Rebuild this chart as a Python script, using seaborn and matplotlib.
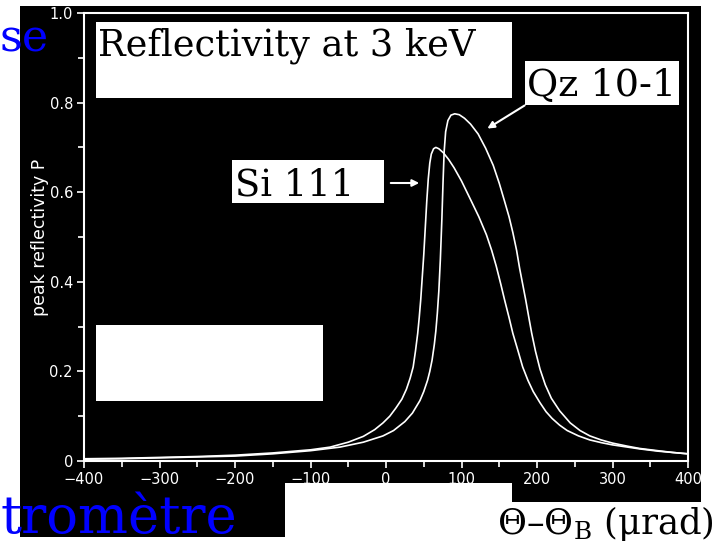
import numpy as np
import pandas as pd
import matplotlib
matplotlib.use('Agg')
import matplotlib.pyplot as plt
import seaborn as sns
from matplotlib.patches import Rectangle, FancyArrowPatch

sns.set_style('ticks')
plt.rcParams['font.family'] = ['DejaVu Sans']
plt.rcParams['mathtext.fontset'] = 'dejavuserif'

# curve data
si_theta = [-400, -350, -300, -250, -200, -150, -100, -74, -50, -30, -15, -4, 5, 13, 21, 27, 32,
            36, 39, 42, 44, 46, 48, 50, 52, 54, 56, 58, 60, 63, 66, 70, 76, 83, 90, 100, 113,
            123, 133, 140, 146, 152, 157, 163, 168, 175, 181, 188, 195, 204, 212, 220, 230,
            240, 255, 270, 285, 300, 320, 336, 360, 380, 400]
si_p = [0.005, 0.006, 0.008, 0.010, 0.013, 0.018, 0.025, 0.031, 0.042, 0.055, 0.070, 0.085,
        0.100, 0.118, 0.138, 0.160, 0.185, 0.21, 0.245, 0.285, 0.32, 0.36, 0.41, 0.46, 0.52,
        0.58, 0.63, 0.665, 0.685, 0.697, 0.70, 0.697, 0.688, 0.673, 0.655, 0.625, 0.58, 0.545,
        0.505, 0.47, 0.435, 0.395, 0.36, 0.32, 0.285, 0.245, 0.21, 0.18, 0.155, 0.13, 0.11,
        0.095, 0.08, 0.068, 0.056, 0.047, 0.041, 0.036, 0.031, 0.027, 0.022, 0.019, 0.016]

qz_theta = [-400, -350, -300, -250, -200, -150, -100, -61, -30, -4, 10, 25, 35, 45, 50, 55, 58,
            61, 64, 66, 68, 70, 72, 74, 75.5, 77, 79, 82, 86, 91, 97, 104, 112, 122, 132, 142,
            150, 157, 163, 168, 173, 177, 181, 185, 189, 193, 198, 204, 211, 219, 230, 244,
            257, 270, 285, 300, 320, 336, 360, 380, 400]
qz_p = [0.004, 0.005, 0.007, 0.009, 0.011, 0.016, 0.023, 0.031, 0.042, 0.056, 0.068, 0.088,
        0.107, 0.135, 0.155, 0.18, 0.20, 0.225, 0.26, 0.29, 0.33, 0.38, 0.45, 0.54, 0.62, 0.69,
        0.735, 0.76, 0.772, 0.775, 0.773, 0.765, 0.752, 0.73, 0.698, 0.66, 0.62, 0.58, 0.545,
        0.51, 0.47, 0.43, 0.395, 0.36, 0.322, 0.285, 0.245, 0.205, 0.17, 0.14, 0.112, 0.085,
        0.068, 0.056, 0.047, 0.040, 0.033, 0.028, 0.023, 0.019, 0.016]

x_ticks = [-400, -300, -200, -100, 0, 100, 200, 300, 400]
x_labels = ['\u2212400', '\u2212300', '\u2212200', '\u2212100', '0', '100', '200', '300', '400']
y_ticks = [0, 0.2, 0.4, 0.6, 0.8, 1.0]
y_labels = ['0', '0.2', '0.4', '0.6', '0.8', '1.0']

W, H = 723, 548


def fx(px):
    return px / W


def fy(py):
    return 1 - py / H


def box(fig, x0, y0, x1, y1, color, z):
    fig.add_artist(Rectangle((fx(x0), fy(y1)), (x1 - x0) / W, (y1 - y0) / H,
                             transform=fig.transFigure, facecolor=color,
                             edgecolor='none', zorder=z))


fig = plt.figure(figsize=(7.23, 5.48), dpi=100)
fig.patch.set_facecolor('white')

# black slide background
box(fig, 20, 6, 701, 537, 'black', -2)

ax = fig.add_axes([fx(84), fy(461), (688 - 84) / W, (461 - 13) / H])
ax.set_facecolor('black')

df = pd.concat([
    pd.DataFrame({'theta': si_theta, 'P': si_p, 'crystal': 'Si 111'}),
    pd.DataFrame({'theta': qz_theta, 'P': qz_p, 'crystal': 'Qz 10-1'}),
])
sns.lineplot(data=df, x='theta', y='P', units='crystal', estimator=None,
             color='white', linewidth=1.2, legend=False, ax=ax)

ax.set_xlim(-400, 400)
ax.set_ylim(0, 1)
ax.set_xticks(x_ticks)
ax.set_xticklabels(x_labels)
ax.set_yticks(y_ticks)
ax.set_yticklabels(y_labels)
ax.set_xticks(np.arange(-350, 400, 100), minor=True)
ax.set_yticks([0.1, 0.3, 0.5, 0.7, 0.9], minor=True)
ax.tick_params(which='both', colors='white', direction='out', width=1.2,
               labelsize=10.5, pad=3)
ax.tick_params(which='major', length=5)
ax.tick_params(which='minor', length=4)
for s in ax.spines.values():
    s.set_color('white')
    s.set_linewidth(1.5)
    s.set_visible(True)
ax.set_xlabel('')
ax.set_ylabel('peak reflectivity P', color='white', fontsize=12.5)
ax.yaxis.set_label_coords(-0.058, 0.5)

serif = 'DejaVu Serif'
# white label boxes
box(fig, 96, 22, 512, 98, 'white', 3)
box(fig, 525, 61, 679, 105, 'white', 3)
box(fig, 232, 160, 384, 203, 'white', 3)
box(fig, 96, 325, 323, 401, 'white', 3)
box(fig, 285, 483, 512, 537, 'white', 3)
box(fig, 506, 502, 723, 548, 'white', 3)

fig.text(fx(98), fy(56), 'Reflectivity at 3 keV', family=serif, fontsize=26.5,
         color='black', va='baseline', zorder=4)
fig.text(fx(527), fy(96), 'Qz 10-1', family=serif, fontsize=27.5,
         color='black', va='baseline', zorder=4)
fig.text(fx(235), fy(195), 'Si 111', family=serif, fontsize=26.5,
         color='black', va='baseline', zorder=4)
fig.text(fx(497), fy(534), r'Θ–Θ$_\mathrm{B}$ (μrad)', family=serif, fontsize=25.5,
         color='black', va='baseline', zorder=4)

# cut-off slide title words
fig.text(fx(0), fy(52), 'se', family=serif, fontsize=32, color='blue',
         va='baseline', zorder=4)
fig.text(fx(0), fy(533), 'tromètre', family=serif, fontsize=38, color='blue',
         va='baseline', zorder=4)

# arrows
fig.add_artist(FancyArrowPatch((fx(388), fy(183)), (fx(422), fy(183)),
                               transform=fig.transFigure, arrowstyle='-|>',
                               mutation_scale=10, color='white', lw=1.5, zorder=4))
fig.add_artist(FancyArrowPatch((fx(527), fy(104)), (fx(485), fy(130)),
                               transform=fig.transFigure, arrowstyle='-|>',
                               mutation_scale=10, color='white', lw=1.5, zorder=4))

fig.savefig('out.png', dpi=100, facecolor='white')
